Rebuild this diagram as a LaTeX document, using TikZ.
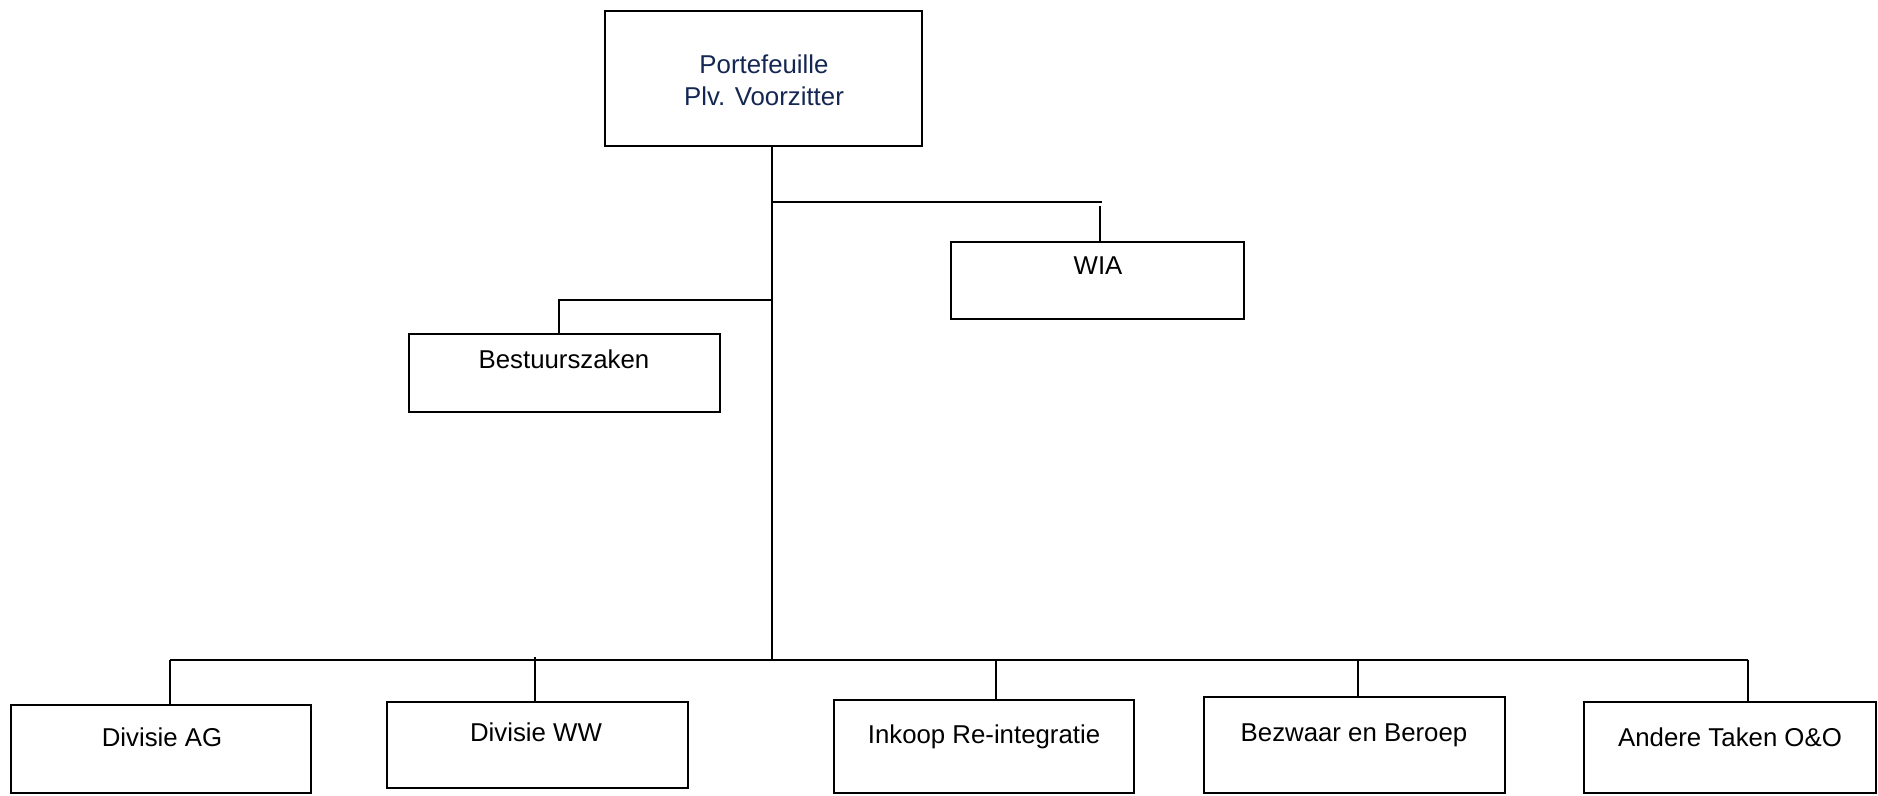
\documentclass[tikz,border=0pt]{standalone}
\usepackage{fontspec}
\setmainfont{Liberation Sans}
\definecolor{navy}{RGB}{20,38,82}
\begin{document}
\begin{tikzpicture}[x=1pt,y=-1pt,
  box/.style={draw=black,line width=2pt,inner sep=0pt,outer sep=0pt,fill=white},
  lbl/.style={inner sep=0pt,align=center,font=\fontsize{25.8}{32}\selectfont},
  conn/.style={draw=black,line width=2pt}]
\useasboundingbox (0,0) rectangle (1878,795);
% boxes
\node[box,minimum width=317pt,minimum height=135pt] (top) at (763.5,78.5) {};
\node[box,minimum width=293pt,minimum height=77pt] (wia) at (1097.5,280.5) {};
\node[box,minimum width=311pt,minimum height=78pt] (best) at (564.5,373) {};
\node[box,minimum width=300pt,minimum height=88pt] (ag) at (161,749) {};
\node[box,minimum width=301pt,minimum height=86pt] (ww) at (537.5,745) {};
\node[box,minimum width=300pt,minimum height=93pt] (ink) at (984,746.5) {};
\node[box,minimum width=301pt,minimum height=96pt] (bez) at (1354.5,745) {};
\node[box,minimum width=292pt,minimum height=91pt] (and) at (1730,747.5) {};
% labels
\node[lbl,text=navy] (ttop) at (764,80) {Portefeuille\\Plv. Voorzitter};
\node[lbl] (twia) at (1098,266) {WIA};
\node[lbl] (tbest) at (564,359) {Bestuurszaken};
\node[lbl] (tag) at (162,737) {Divisie AG};
\node[lbl] (tww) at (536,732) {Divisie WW};
\node[lbl] (tink) at (984,737) {Inkoop Re-integratie};
\node[lbl] (tbez) at (1354,735) {Bezwaar en Beroep};
\node[lbl] (tand) at (1730,737) {Andere Taken O\&O};
% junctions
\coordinate (trunk) at (772,660);
\coordinate (wiaj) at (1100,202);
\coordinate (bestj) at (559,300);
\coordinate (busl) at (170,660);
\coordinate (busr) at (1748,660);
% connectors
\draw[conn] (top.south -| trunk) -- (trunk);
\draw[conn] (wiaj -| trunk) -- ([xshift=2pt]wiaj);
\draw[conn] ([yshift=-4pt]wiaj) -- (wiaj |- wia.north);
\draw[conn] (bestj -| trunk) -- (bestj) -- (bestj |- best.north);
\draw[conn] (busl) -- (busr);
\draw[conn] (busl) -- (busl |- ag.north);
\draw[conn] (535,657) -- (535,0 |- ww.north);
\draw[conn] (996,660) -- (996,0 |- ink.north);
\draw[conn] (1358,660) -- (1358,0 |- bez.north);
\draw[conn] (busr) -- (busr |- and.north);
\end{tikzpicture}
\end{document}
